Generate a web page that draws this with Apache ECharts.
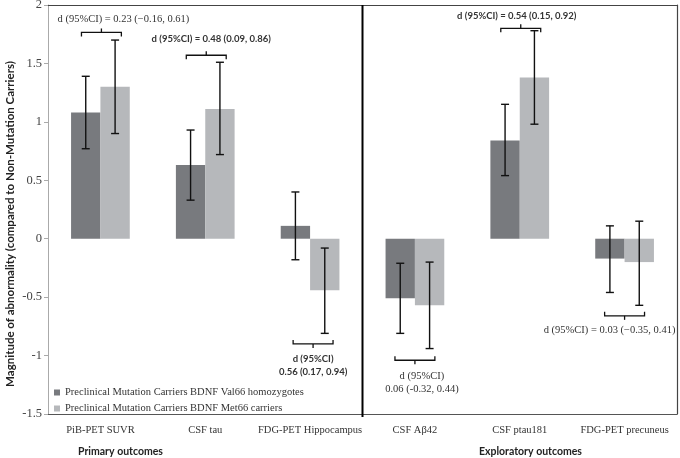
<!DOCTYPE html>
<html lang="en">
<head>
<meta charset="UTF-8">
<title>BDNF effect sizes</title>
<script src="https://cdn.jsdelivr.net/npm/echarts@6/dist/echarts.min.js"></script>
</head>
<body style="margin:0">
<div id="main" style="width:680px;height:458px"></div>
<script>
// categories and values
const categories = ['PiB-PET SUVR', 'CSF tau', 'FDG-PET Hippocampus', 'CSF A\u03b242', 'CSF ptau181', 'FDG-PET precuneus'];
const seriesNames = ['Preclinical Mutation Carriers BDNF Val66 homozygotes', 'Preclinical Mutation Carriers BDNF Met66 carriers'];
const val66 = [1.08, 0.63, 0.11, -0.51, 0.84, -0.17];
const val66Low = [0.77, 0.33, -0.18, -0.81, 0.54, -0.46];
const val66High = [1.39, 0.93, 0.40, -0.21, 1.15, 0.11];
const met66 = [1.30, 1.11, -0.44, -0.57, 1.38, -0.20];
const met66Low = [0.90, 0.72, -0.81, -0.94, 0.98, -0.57];
const met66High = [1.70, 1.51, -0.08, -0.20, 1.78, 0.15];
// effect size annotations: category, bracket level
const effectCat = [0, 1, 4, 2, 3, 5];
const effectLevel = [1.765, 1.57, 1.80, -0.90, -1.04, -0.66];
const effectText = [
  ['d (95%CI) = 0.23 (\u22120.16, 0.61)'],
  ['d (95%CI) = 0.48 (0.09, 0.86)'],
  ['d (95%CI) = 0.54 (0.15, 0.92)'],
  ['d (95%CI)', '0.56 (0.17, 0.94)'],
  ['d (95%CI)', '0.06 (-0.32, 0.44)'],
  ['d (95%CI) = 0.03 (\u22120.35, 0.41)']
];

const SERIF = '"Liberation Serif", "DejaVu Serif", serif';
const SANS = 'Lato, "Open Sans", sans-serif';
const CAT_GAP = 0.44;

// layout of each annotation: side of bracket, text shift, font
const effectLayout = [
  { below: false, bx: 1, tx: 22, ty: -13, bold: false },
  { below: false, bx: 1, tx: 5, ty: -16, bold: true },
  { below: false, bx: 1, tx: -4, ty: -12, bold: true },
  { below: true, bx: 3, tx: 0, ty: 15, bold: true },
  { below: true, bx: 0, tx: 7, ty: 16, bold: false },
  { below: true, bx: 0, tx: -15, ty: 14, bold: false }
];

function errorRender(side) {
  return function (params, api) {
    const x = api.value(0);
    const lo = api.coord([x, api.value(1)]);
    const hi = api.coord([x, api.value(2)]);
    const band = api.size([1, 0])[0];
    const bw = band * (1 - CAT_GAP) / 2;
    const cx = lo[0] + side * bw / 2;
    const st = { stroke: '#111', lineWidth: 1.4 };
    return {
      type: 'group',
      children: [
        { type: 'line', shape: { x1: cx, y1: hi[1], x2: cx, y2: lo[1] }, style: st },
        { type: 'line', shape: { x1: cx - 4, y1: hi[1], x2: cx + 4, y2: hi[1] }, style: st },
        { type: 'line', shape: { x1: cx - 4, y1: lo[1], x2: cx + 4, y2: lo[1] }, style: st }
      ]
    };
  };
}

function effectRender(params, api) {
  const i = params.dataIndex;
  const lay = effectLayout[i];
  const p = api.coord([api.value(0), api.value(1)]);
  const band = api.size([1, 0])[0];
  const half = band * (1 - CAT_GAP) / 2 * 0.68;
  const cx = p[0] + lay.bx, y = p[1];
  const s = lay.below ? 1 : -1; // tick direction
  const st = { stroke: '#111', lineWidth: 1.3, fill: null };
  const children = [
    { type: 'polyline', shape: { points: [[cx - half, y - s * 4], [cx - half, y], [cx + half, y], [cx + half, y - s * 4]] }, style: st },
    { type: 'line', shape: { x1: cx, y1: y, x2: cx, y2: y + s * 4 }, style: st }
  ];
  const lines = effectText[i];
  lines.forEach(function (t, k) {
    children.push({
      type: 'text',
      style: {
        text: t, x: cx + lay.tx, y: y + lay.ty + k * 13,
        align: 'center', verticalAlign: 'middle',
        font: (lay.bold ? 'bold 9.5px ' + SANS : '10.5px ' + SERIF),
        fill: '#333'
      }
    });
  });
  return { type: 'group', children: children };
}

function dividerRender(params, api) {
  const band = api.size([1, 0])[0];
  const top = api.coord([api.value(0), 2]);
  const bot = api.coord([api.value(0), -1.5]);
  const x = top[0] + band / 2;
  return { type: 'line', shape: { x1: x, y1: top[1], x2: x, y2: bot[1] + 3 }, style: { stroke: '#000', lineWidth: 2 } };
}

const chart = echarts.init(document.getElementById('main'));
chart.setOption({
  animation: false,
  grid: { left: 48, right: 3, top: 5, bottom: 44, outerBoundsMode: 'none' },
  legend: {
    orient: 'vertical', left: 49, top: 382, itemWidth: 6, itemHeight: 6, itemGap: 5,
    icon: 'rect',
    textStyle: { fontFamily: SERIF, fontSize: 10.5, color: '#333' },
    data: seriesNames
  },
  xAxis: [
    {
      type: 'category', data: categories,
      axisLine: { onZero: false, lineStyle: { color: '#555', width: 1 } },
      axisTick: { show: false },
      axisLabel: { fontFamily: SERIF, fontSize: 10.5, color: '#333', margin: 11, interval: 0 }
    },
    {
      type: 'category', data: categories, position: 'top',
      axisLine: { onZero: false, lineStyle: { color: '#444', width: 1.2 } },
      axisTick: { show: false }, axisLabel: { show: false }
    }
  ],
  yAxis: [
    {
      type: 'value', min: -1.5, max: 2, interval: 0.5,
      axisLine: { show: true, lineStyle: { color: '#aaa' } },
      axisTick: { show: true, length: 4, lineStyle: { color: '#aaa' } },
      axisLabel: { fontFamily: SERIF, fontSize: 12.5, color: '#444', margin: 6 },
      splitLine: { show: false }
    },
    {
      type: 'value', min: -1.5, max: 2, interval: 0.5, position: 'right',
      axisLine: { show: true, lineStyle: { color: '#444', width: 1.2 } },
      axisTick: { show: false }, axisLabel: { show: false }, splitLine: { show: false }
    }
  ],
  series: [
    {
      name: seriesNames[0], type: 'bar', data: val66, barGap: '0%', barCategoryGap: (CAT_GAP * 100) + '%',
      itemStyle: { color: '#787a7e' }
    },
    {
      name: seriesNames[1], type: 'bar', data: met66, barGap: '0%', barCategoryGap: (CAT_GAP * 100) + '%',
      itemStyle: { color: '#b6b8bb' }
    },
    {
      type: 'custom', renderItem: errorRender(-1), z: 5, silent: true,
      encode: { x: 0, y: [1, 2] },
      data: categories.map(function (c, i) { return [i, val66Low[i], val66High[i]]; })
    },
    {
      type: 'custom', renderItem: errorRender(1), z: 5, silent: true,
      encode: { x: 0, y: [1, 2] },
      data: categories.map(function (c, i) { return [i, met66Low[i], met66High[i]]; })
    },
    {
      type: 'custom', renderItem: effectRender, z: 6, silent: true,
      encode: { x: 0, y: 1 },
      data: effectCat.map(function (c, i) { return [c, effectLevel[i]]; })
    },
    {
      type: 'custom', renderItem: dividerRender, z: 6, silent: true,
      encode: { x: 0, y: 1 },
      data: [[2, 0]]
    }
  ],
  graphic: [
    {
      type: 'text', x: 10, y: 224, rotation: Math.PI / 2,
      style: {
        text: 'Magnitude of abnormality (compared to Non-Mutation Carriers)',
        font: 'bold 11.5px ' + SANS, fill: '#222', align: 'center', verticalAlign: 'middle'
      }
    },
    { type: 'text', left: 78, top: 446, style: { text: 'Primary outcomes', font: 'bold 10.5px ' + SANS, fill: '#222' } },
    { type: 'text', left: 479, top: 446, style: { text: 'Exploratory outcomes', font: 'bold 10.5px ' + SANS, fill: '#222' } }
  ]
});
</script>
</body>
</html>
